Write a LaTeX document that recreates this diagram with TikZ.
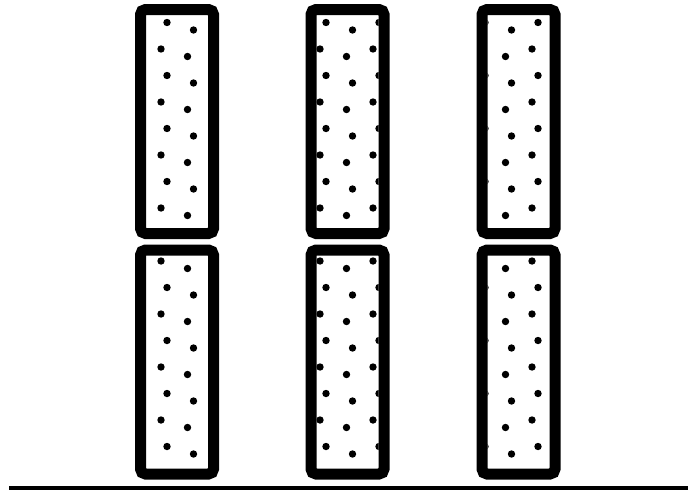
\documentclass[tikz,border=0pt]{standalone}
\usetikzlibrary{positioning}
\begin{document}
\begin{tikzpicture}[x=1pt, y=-1pt,
    frame/.style={draw=black, line width=11pt, rounded corners=5pt},
    speck/.style={fill=black},
    ground/.style={draw=black, line width=4pt}]
  \fill[white] (0,0) rectangle (700,493);
  \useasboundingbox (0,0) rectangle (700,493);
  % dotted filling, kept inside the six frames
  \begin{scope}
    \clip \foreach \cx in {177,347.5,518.5} {\foreach \ty in {9.5,250} {({\cx-31},{\ty+5.5}) rectangle ({\cx+31},{\ty+218.5})}};
    \foreach \i in {2,...,10}
      \foreach \j in {0,...,9}
        \foreach \dx/\dy in {0/0, 26.5/7.5, 6/26.5, 32.5/34}
          \fill[speck] ({2+53*\i+\dx},{-4+53*\j+\dy}) circle (3.7pt);
  \end{scope}
  % the frames
  \foreach \cx in {177,347.5,518.5}
    \foreach \ty in {9.5,250}
      \draw[frame] ({\cx-36.5},\ty) rectangle ({\cx+36.5},{\ty+224});
  % ground line
  \coordinate (gl) at (9,488);
  \coordinate (gr) at (688,488);
  \draw[ground] (gl) -- (gr);
\end{tikzpicture}
\end{document}
